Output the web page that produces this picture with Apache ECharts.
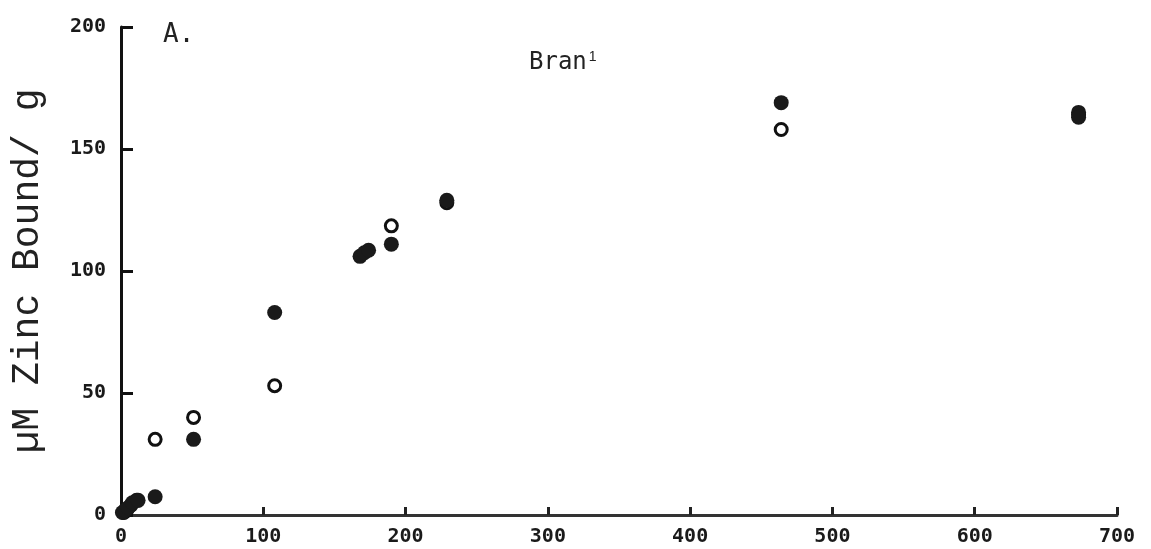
<!DOCTYPE html>
<html>
<head>
<meta charset="utf-8">
<script src="https://cdn.jsdelivr.net/npm/echarts@6/dist/echarts.min.js"></script>
<style>
  html, body { margin: 0; padding: 0; background: #fff; }
  #chart { width: 1151px; height: 549px; }
</style>
</head>
<body>
<div id="chart"></div>
<script>
// data
const xTicks = [0, 100, 200, 300, 400, 500, 600, 700];
const yTicks = [0, 50, 100, 150, 200];

// filled circles
const filledX = [1, 3, 5, 8, 12, 24, 51, 108, 168, 171, 174, 190, 229, 464, 673, 673];
const filledY = [1, 2, 3, 5, 6, 7.5, 31, 83, 106, 107.5, 108.5, 111, 129, 169, 165, 163];

// open circles
const openX = [2, 4, 7, 11, 24, 51, 108, 190, 229, 464, 673];
const openY = [1, 2, 4, 6, 31, 40, 53, 118.5, 128, 158, 164];

const pairs = (xs, ys) => xs.map((x, i) => [x, ys[i]]);

const chart = echarts.init(document.getElementById('chart'));

const labelFont = {
  color: '#1a1a1a',
  fontFamily: 'DejaVu Sans Mono',
  fontWeight: 'bold',
  fontSize: 20
};

chart.setOption({
  animation: false,
  backgroundColor: '#fff',
  grid: {
    left: 121, right: 34, top: 27, bottom: 34,
    containLabel: false,
    outerBoundsMode: 'none'
  },
  xAxis: {
    type: 'value',
    min: xTicks[0],
    max: xTicks[xTicks.length - 1],
    interval: 100,
    axisLine: { lineStyle: { color: '#333', width: 3 } },
    axisTick: { inside: true, length: 8, lineStyle: { color: '#222', width: 3 } },
    axisLabel: Object.assign({ margin: 12 }, labelFont),
    splitLine: { show: false }
  },
  yAxis: {
    type: 'value',
    min: yTicks[0],
    max: yTicks[yTicks.length - 1],
    interval: 50,
    name: 'µM Zinc Bound/ g',
    nameLocation: 'middle',
    nameRotate: 90,
    nameGap: 74,
    nameTextStyle: {
      color: '#222',
      fontFamily: 'Liberation Mono',
      fontSize: 38
    },
    axisLine: { lineStyle: { color: '#111', width: 3 } },
    axisTick: { inside: true, length: 12, lineStyle: { color: '#111', width: 3 } },
    axisLabel: Object.assign({ margin: 15 }, labelFont),
    splitLine: { show: false }
  },
  graphic: [
    {
      type: 'text',
      left: 163,
      top: 22,
      style: {
        text: 'A.',
        fill: '#222',
        font: '26px "DejaVu Sans Mono"'
      }
    },
    {
      type: 'text',
      left: 529,
      top: 50,
      style: {
        text: 'Bran{s|1}',
        fill: '#222',
        font: '24px "DejaVu Sans Mono"',
        rich: {
          s: { fontSize: 14, verticalAlign: 'top', padding: [0, 0, 12, 2] }
        }
      }
    }
  ],
  series: [
    {
      name: 'open',
      type: 'scatter',
      symbol: 'circle',
      symbolSize: 12,
      itemStyle: { color: '#fff', borderColor: '#111', borderWidth: 3, opacity: 1 },
      data: pairs(openX, openY),
      z: 2
    },
    {
      name: 'filled',
      type: 'scatter',
      symbol: 'circle',
      symbolSize: 15,
      itemStyle: { color: '#1a1a1a', opacity: 1 },
      data: pairs(filledX, filledY),
      z: 3
    }
  ]
});
</script>
</body>
</html>
